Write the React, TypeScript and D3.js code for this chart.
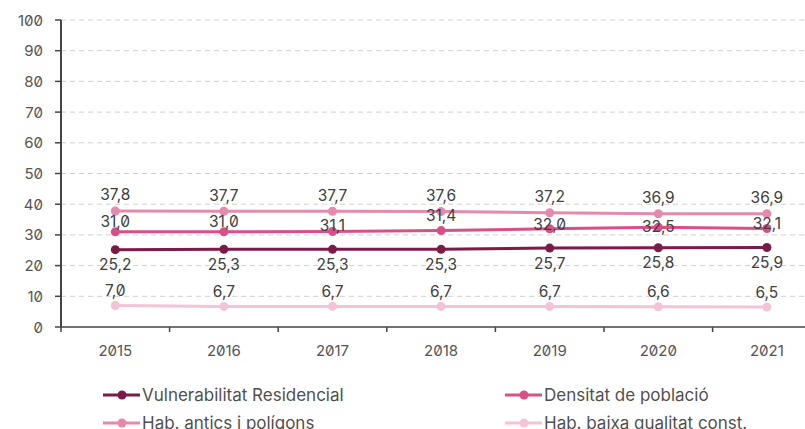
import React from "react";
import * as d3 from "d3";

const years = ["2015", "2016", "2017", "2018", "2019", "2020", "2021"];
const vulnerabilitat = [25.2, 25.3, 25.3, 25.3, 25.7, 25.8, 25.9];
const densitat = [31.0, 31.0, 31.1, 31.4, 32.0, 32.5, 32.1];
const antics = [37.8, 37.7, 37.7, 37.6, 37.2, 36.9, 36.9];
const baixa = [7.0, 6.7, 6.7, 6.7, 6.7, 6.6, 6.5];
const yTicks = [0, 10, 20, 30, 40, 50, 60, 70, 80, 90, 100];

// label layout (vertical offset of the value label, px)
const densLabelDy = [-10, -10, -6, -15, -4, -1, -5];

const series = [
  { name: "Vulnerabilitat Residencial", values: vulnerabilitat, color: "#7c1b47", dy: () => 15 },
  { name: "Densitat de població", values: densitat, color: "#d94f88", dy: (i: number) => densLabelDy[i] },
  { name: "Hab. antics i polígons", values: antics, color: "#e68aad", dy: () => -16 },
  { name: "Hab. baixa qualitat const.", values: baixa, color: "#f3c3d6", dy: () => -15 },
];

const W = 805;
const H = 429;
const left = 61;
const bottom = 327;
const top = 20;

export default function App() {
  const x = d3.scaleBand<string>().domain(years).range([left, left + 7 * 108.6]).padding(0);
  const y = d3.scaleLinear().domain([0, 100]).range([bottom, top]);
  const cx = (i: number) => (x(years[i]) as number) + x.bandwidth() / 2;
  const line = d3
    .line<number>()
    .x((_, i) => cx(i))
    .y((d) => y(d));
  const numFont = "Inter, 'DejaVu Sans', sans-serif";
  const legFont = "Inter, 'Liberation Sans', Arial, sans-serif";
  const fmt = (v: number) => v.toFixed(1).replace(".", ",");
  const legendPos = [
    { x: 103, y: 395 },
    { x: 505, y: 395 },
    { x: 103, y: 423 },
    { x: 505, y: 423 },
  ];
  const boundaries = d3.range(8).map((k) => left + k * x.bandwidth());

  return (
    <svg
      width={W}
      height={H}
      style={{ position: "absolute", left: 0, top: 0, background: "#fff" }}
    >
      {/* gridlines */}
      {yTicks.slice(1).map((t) => (
        <line
          key={"g" + t}
          x1={left}
          x2={W}
          y1={y(t)}
          y2={y(t)}
          stroke="#d0d0d0"
          strokeWidth={1}
          strokeDasharray="5,4"
        />
      ))}
      {/* y axis */}
      <line x1={left} x2={left} y1={top} y2={bottom} stroke="#444" strokeWidth={2} />
      {yTicks.map((t) => (
        <g key={"y" + t}>
          <line x1={left - 6} x2={left} y1={y(t)} y2={y(t)} stroke="#444" strokeWidth={1.5} />
          <text
            x={43}
            y={y(t)}
            textAnchor="end"
            dominantBaseline="central"
            fontFamily={numFont}
            fontSize={15}
            fill="#555"
            style={{ fontFeatureSettings: "'zero' 1" }}
          >
            {t}
          </text>
        </g>
      ))}
      {/* x axis */}
      <line x1={left} x2={W} y1={bottom} y2={bottom} stroke="#444" strokeWidth={1.5} />
      {boundaries.map((b, k) => (
        <line key={"xt" + k} x1={b} x2={b} y1={bottom} y2={bottom + 5} stroke="#444" strokeWidth={1.5} />
      ))}
      {years.map((yr, i) => (
        <text
          key={"x" + yr}
          x={cx(i)}
          y={350}
          textAnchor="middle"
          dominantBaseline="central"
          fontFamily={numFont}
          fontSize={15}
          fill="#555"
          style={{ fontFeatureSettings: "'zero' 1" }}
        >
          {yr}
        </text>
      ))}
      {/* lines */}
      {series.map((s) => (
        <g key={s.name}>
          <path d={line(s.values) || ""} fill="none" stroke={s.color} strokeWidth={3} />
          {s.values.map((v, i) => (
            <circle key={i} cx={cx(i)} cy={y(v)} r={4.5} fill={s.color} />
          ))}
        </g>
      ))}
      {/* labels */}
      {series.map((s) =>
        s.values.map((v, i) => (
          <text
            key={s.name + "l" + i}
            x={cx(i)}
            y={y(v) + s.dy(i)}
            textAnchor="middle"
            dominantBaseline="central"
            fontFamily={numFont}
            fontSize={15.5}
            fill="#404040"
            style={{ fontFeatureSettings: "'zero' 1" }}
          >
            {fmt(v)}
          </text>
        ))
      )}
      {/* legend */}
      {series.map((s, k) => {
        const p = legendPos[k];
        return (
          <g key={"leg" + k}>
            <line x1={p.x} x2={p.x + 37} y1={p.y} y2={p.y} stroke={s.color} strokeWidth={3} />
            <circle cx={p.x + 19} cy={p.y} r={4.5} fill={s.color} />
            <text
              x={p.x + 39}
              y={p.y}
              dominantBaseline="central"
              fontFamily={legFont}
              fontSize={17}
              fill="#505050"
            >
              {s.name}
            </text>
          </g>
        );
      })}
    </svg>
  );
}
